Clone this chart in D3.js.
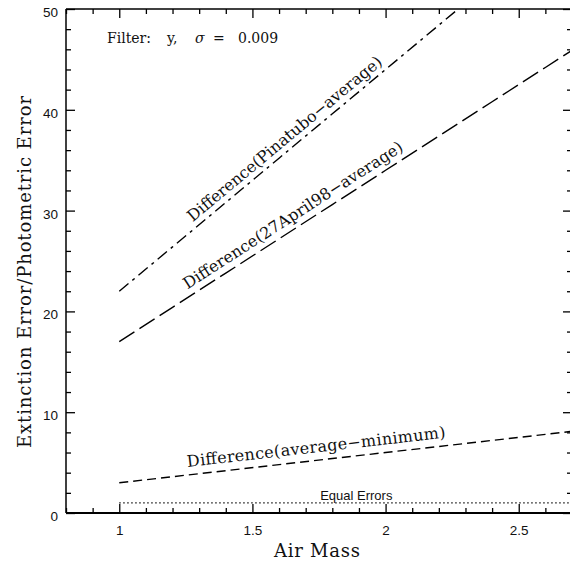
<!DOCTYPE html>
<html>
<head>
<meta charset="utf-8">
<script src="https://cdn.jsdelivr.net/npm/d3@7"></script>
<style>
  html, body { margin: 0; padding: 0; background: #fff; }
  svg { display: block; }
</style>
</head>
<body>
<svg id="chart" width="570" height="564"></svg>
<script>
// Air mass sample points for each curve
const airMass        = [1.0, 1.2, 1.4, 1.6, 1.8, 2.0, 2.2, 2.4, 2.6, 2.7];
const airMassPinatubo = [1.0, 1.2, 1.4, 1.6, 1.8, 2.0, 2.2, 2.3];

// Extinction error / photometric error ratios
const pinatuboAvg  = [22.0, 26.4, 30.8, 35.2, 39.6, 44.0, 48.4, 50.6];
const april98Avg   = [17.0, 20.4, 23.8, 27.2, 30.6, 34.0, 37.4, 40.8, 44.2, 45.9];
const avgMinimum   = [3.0, 3.6, 4.2, 4.8, 5.4, 6.0, 6.6, 7.2, 7.8, 8.1];
const equalErrors  = [1, 1, 1, 1, 1, 1, 1, 1, 1, 1];

// Axis ticks
const xMajorTicks = [1, 1.5, 2, 2.5];
const xMinorTicks = [0.8, 0.9, 1.1, 1.2, 1.3, 1.4, 1.6, 1.7, 1.8, 1.9, 2.1, 2.2, 2.3, 2.4, 2.6, 2.7];
const yMajorTicks = [0, 10, 20, 30, 40, 50];
const yMinorTicks = [2, 4, 6, 8, 12, 14, 16, 18, 22, 24, 26, 28, 32, 34, 36, 38, 42, 44, 46, 48];

const labels = {
  pinatubo: "Difference(Pinatubo\u2212average)",
  april: "Difference(27April98\u2212average)",
  avgmin: "Difference(average\u2212minimum)",
  equal: "Equal Errors"
};

const svg = d3.select("#chart");
const L = 66, R = 572, T = 9, B = 513;

const x = d3.scaleLinear().domain([0.8, 2.7]).range([L, R]);
const y = d3.scaleLinear().domain([0, 50]).range([B, T]);

const tickFont = "'Liberation Sans', Arial, Helvetica, sans-serif";
const serifFont = "'DejaVu Serif', serif";

// clip for curves
svg.append("defs").append("clipPath").attr("id", "plotClip")
  .append("rect").attr("x", L).attr("y", T).attr("width", R - L).attr("height", B - T);

function styleAxis(g) {
  g.select(".domain").remove();
  g.selectAll(".tick line").attr("stroke", "#000").attr("stroke-width", 1.3);
  g.selectAll(".tick text").attr("fill", "#111")
    .style("font-family", tickFont).style("font-size", "13.5px");
}

// bottom axis
svg.append("g").attr("transform", `translate(0,${B})`)
  .call(d3.axisBottom(x).tickValues(xMajorTicks).tickSize(-9).tickPadding(12).tickFormat(d3.format("")))
  .call(styleAxis);
svg.append("g").attr("transform", `translate(0,${B})`)
  .call(d3.axisBottom(x).tickValues(xMinorTicks).tickSize(-5).tickFormat(""))
  .call(styleAxis);
// top axis
svg.append("g").attr("transform", `translate(0,${T})`)
  .call(d3.axisTop(x).tickValues(xMajorTicks).tickSize(-9).tickFormat(""))
  .call(styleAxis);
svg.append("g").attr("transform", `translate(0,${T})`)
  .call(d3.axisTop(x).tickValues(xMinorTicks).tickSize(-5).tickFormat(""))
  .call(styleAxis);
// left axis
const gl = svg.append("g").attr("transform", `translate(${L},0)`)
  .call(d3.axisLeft(y).tickValues(yMajorTicks).tickSize(-9).tickPadding(8))
  .call(styleAxis);
gl.selectAll(".tick text").attr("dy", "0.55em");
svg.append("g").attr("transform", `translate(${L},0)`)
  .call(d3.axisLeft(y).tickValues(yMinorTicks).tickSize(-5).tickFormat(""))
  .call(styleAxis);
// right axis
svg.append("g").attr("transform", `translate(${R},0)`)
  .call(d3.axisRight(y).tickValues(yMajorTicks).tickSize(-9).tickFormat(""))
  .call(styleAxis);
svg.append("g").attr("transform", `translate(${R},0)`)
  .call(d3.axisRight(y).tickValues(yMinorTicks).tickSize(-5).tickFormat(""))
  .call(styleAxis);

// frame
svg.append("line").attr("x1", L).attr("x2", R).attr("y1", B).attr("y2", B)
  .attr("stroke", "#000").attr("stroke-width", 2.2);
svg.append("line").attr("x1", L).attr("x2", R).attr("y1", T).attr("y2", T)
  .attr("stroke", "#000").attr("stroke-width", 1.5);
svg.append("line").attr("x1", L).attr("x2", L).attr("y1", T).attr("y2", B)
  .attr("stroke", "#000").attr("stroke-width", 1.5);
svg.append("line").attr("x1", R).attr("x2", R).attr("y1", T).attr("y2", B)
  .attr("stroke", "#000").attr("stroke-width", 1.5);

// curves
const line = d3.line().x(d => x(d[0])).y(d => y(d[1]));
const curves = [
  { xs: airMassPinatubo, ys: pinatuboAvg, dash: "12,5,3,5", width: 1.4 },
  { xs: airMass, ys: april98Avg, dash: "18,6", width: 1.4 },
  { xs: airMass, ys: avgMinimum, dash: "9,5", width: 1.4 },
  { xs: airMass, ys: equalErrors, dash: "1.4,2.6", width: 1.4 }
];
const plot = svg.append("g").attr("clip-path", "url(#plotClip)");
curves.forEach(c => {
  plot.append("path")
    .datum(d3.zip(c.xs, c.ys))
    .attr("d", line)
    .attr("fill", "none")
    .attr("stroke", "#000")
    .attr("stroke-width", c.width)
    .attr("stroke-dasharray", c.dash);
});

// labels running along the curves
function curveLabel(xs, ys, startX, text, offset, size, len) {
  const i0 = 0, i1 = xs.length - 1;
  const ang = Math.atan2(y(ys[i1]) - y(ys[i0]), x(xs[i1]) - x(xs[i0])) * 180 / Math.PI;
  const interp = d3.scaleLinear().domain(xs).range(ys);
  const px = x(startX), py = y(interp(startX));
  svg.append("text")
    .attr("transform", `translate(${px},${py}) rotate(${ang})`)
    .attr("dy", -offset)
    .attr("fill", "#111")
    .attr("textLength", len)
    .attr("lengthAdjust", "spacing")
    .style("font-family", serifFont)
    .style("font-size", size + "px")
    .text(text);
}
curveLabel(airMassPinatubo, pinatuboAvg, 1.29, labels.pinatubo, 6, 16, 248);
curveLabel(airMass, april98Avg, 1.27, labels.april, 7, 16, 258);
curveLabel(airMass, avgMinimum, 1.26, labels.avgmin, 8, 16, 260);

svg.append("text")
  .attr("x", x(1.89)).attr("y", y(1) - 3)
  .attr("text-anchor", "middle")
  .attr("fill", "#111")
  .style("font-family", tickFont).style("font-size", "13px")
  .text(labels.equal);

// filter note
const note = svg.append("text").attr("y", 43).attr("fill", "#111")
  .style("font-family", serifFont).style("font-size", "14px");
note.append("tspan").attr("x", 107).text("Filter:");
note.append("tspan").attr("x", 167).text("y,");
note.append("tspan").attr("x", 195).style("font-style", "italic").text("\u03c3");
note.append("tspan").attr("x", 213).text("=");
note.append("tspan").attr("x", 238).text("0.009");

// axis titles
svg.append("text")
  .attr("x", (L + R) / 2 - 2).attr("y", 557)
  .attr("text-anchor", "middle").attr("fill", "#111")
  .attr("textLength", 86).attr("lengthAdjust", "spacing")
  .style("font-family", serifFont).style("font-size", "18px")
  .text("Air Mass");
svg.append("text")
  .attr("transform", `translate(31,${(T + B) / 2 + 11}) rotate(-90)`)
  .attr("text-anchor", "middle").attr("fill", "#111")
  .attr("textLength", 352).attr("lengthAdjust", "spacing")
  .style("font-family", serifFont).style("font-size", "18px")
  .text("Extinction Error/Photometric Error");
</script>
</body>
</html>
